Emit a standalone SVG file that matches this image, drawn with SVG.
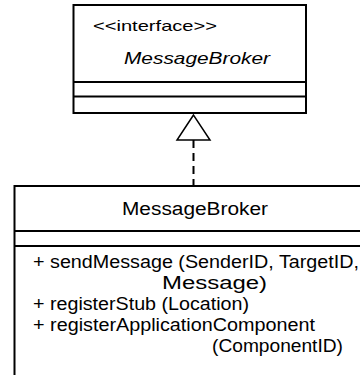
<svg xmlns="http://www.w3.org/2000/svg" width="360" height="375" viewBox="0 0 360 375">
  <style>
    .box { fill: #ffffff; stroke: #000000; stroke-width: 2; }
    .sep { stroke: #000000; stroke-width: 2; fill: none; }
    .txt { font-family: "Liberation Sans", Arial, sans-serif; fill: #000000; }
    .realize { stroke: #000000; stroke-width: 2; stroke-dasharray: 8 5; fill: none; }
    .head { fill: #ffffff; stroke: #000000; stroke-width: 1.5; }
  </style>
  <rect width="360" height="375" fill="#ffffff"/>

  <!-- interface MessageBroker -->
  <g id="iface-messagebroker">
    <rect class="box" x="73.5" y="5" width="232.5" height="108"/>
    <line class="sep" x1="73.5" y1="82" x2="306" y2="82"/>
    <line class="sep" x1="73.5" y1="96.5" x2="306" y2="96.5"/>
    <text class="txt" x="93" y="31" font-size="14.5" textLength="124" lengthAdjust="spacingAndGlyphs">&lt;&lt;interface&gt;&gt;</text>
    <text class="txt" x="124" y="64" font-size="17" font-style="italic" textLength="146" lengthAdjust="spacingAndGlyphs">MessageBroker</text>
  </g>

  <!-- class MessageBroker -->
  <g id="class-messagebroker">
    <rect class="box" x="14.5" y="186" width="360" height="200"/>
    <line class="sep" x1="14.5" y1="231" x2="360" y2="231"/>
    <line class="sep" x1="14.5" y1="246" x2="360" y2="246"/>
    <text class="txt" x="122" y="215" font-size="18" textLength="146" lengthAdjust="spacingAndGlyphs">MessageBroker</text>
    <text class="txt" x="33" y="268" font-size="17.5" textLength="326" lengthAdjust="spacingAndGlyphs">+ sendMessage (SenderID, TargetID,</text>
    <text class="txt" x="162" y="289" font-size="17.5" textLength="105" lengthAdjust="spacingAndGlyphs">Message)</text>
    <text class="txt" x="33" y="310" font-size="17.5" textLength="216" lengthAdjust="spacingAndGlyphs">+ registerStub (Location)</text>
    <text class="txt" x="33" y="331" font-size="17.5" textLength="282" lengthAdjust="spacingAndGlyphs">+ registerApplicationComponent</text>
    <text class="txt" x="212" y="352" font-size="17.5" textLength="131" lengthAdjust="spacingAndGlyphs">(ComponentID)</text>
  </g>

  <!-- realization: class implements interface -->
  <g id="connectors">
    <line class="realize" x1="193.5" y1="140" x2="193.5" y2="186"/>
    <polygon class="head" points="193.5,115 177,140 210,140"/>
  </g>
</svg>
